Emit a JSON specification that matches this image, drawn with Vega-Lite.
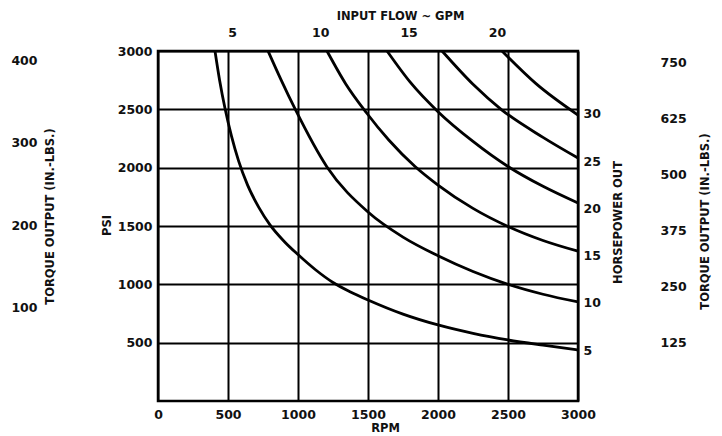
{
  "$schema": "https://vega.github.io/schema/vega-lite/v6.json",
  "autosize": "none",
  "width": 420,
  "height": 350,
  "padding": {"left": 158, "top": 51, "right": 144, "bottom": 35},
  "background": "white",
  "config": {
    "view": {"stroke": "black", "strokeWidth": 2.5},
    "axis": {
      "labelFont": "DejaVu Sans", "labelFontWeight": "bold", "labelFontSize": 12.5, "labelColor": "#111",
      "titleFont": "DejaVu Sans", "titleFontWeight": "bold", "titleFontSize": 11.5, "titleColor": "#111",
      "ticks": false, "domain": false, "grid": false, "labelFlush": false, "labelOverlap": false, "format": "d"
    }
  },
  "datasets": {
    "curves": [
      {"curve": "5 HP", "rpm": 407, "psi": 3000}, {"curve": "5 HP", "rpm": 440, "psi": 2750}, {"curve": "5 HP", "rpm": 480, "psi": 2500},
      {"curve": "5 HP", "rpm": 525, "psi": 2270}, {"curve": "5 HP", "rpm": 575, "psi": 2060}, {"curve": "5 HP", "rpm": 640, "psi": 1850},
      {"curve": "5 HP", "rpm": 720, "psi": 1660}, {"curve": "5 HP", "rpm": 800, "psi": 1510}, {"curve": "5 HP", "rpm": 900, "psi": 1370},
      {"curve": "5 HP", "rpm": 1000, "psi": 1255}, {"curve": "5 HP", "rpm": 1125, "psi": 1125}, {"curve": "5 HP", "rpm": 1250, "psi": 1016},
      {"curve": "5 HP", "rpm": 1375, "psi": 935}, {"curve": "5 HP", "rpm": 1500, "psi": 866}, {"curve": "5 HP", "rpm": 1750, "psi": 745},
      {"curve": "5 HP", "rpm": 2000, "psi": 652}, {"curve": "5 HP", "rpm": 2250, "psi": 580}, {"curve": "5 HP", "rpm": 2500, "psi": 523},
      {"curve": "5 HP", "rpm": 2750, "psi": 478}, {"curve": "5 HP", "rpm": 3000, "psi": 437},
      {"curve": "10 HP", "rpm": 786, "psi": 3000}, {"curve": "10 HP", "rpm": 880, "psi": 2750}, {"curve": "10 HP", "rpm": 979, "psi": 2503},
      {"curve": "10 HP", "rpm": 1207, "psi": 2006}, {"curve": "10 HP", "rpm": 1500, "psi": 1620}, {"curve": "10 HP", "rpm": 1750, "psi": 1405},
      {"curve": "10 HP", "rpm": 2000, "psi": 1245}, {"curve": "10 HP", "rpm": 2250, "psi": 1110}, {"curve": "10 HP", "rpm": 2500, "psi": 1000},
      {"curve": "10 HP", "rpm": 2750, "psi": 915}, {"curve": "10 HP", "rpm": 3000, "psi": 849},
      {"curve": "15 HP", "rpm": 1207, "psi": 3000}, {"curve": "15 HP", "rpm": 1340, "psi": 2720}, {"curve": "15 HP", "rpm": 1486, "psi": 2475},
      {"curve": "15 HP", "rpm": 1650, "psi": 2235}, {"curve": "15 HP", "rpm": 1836, "psi": 2010}, {"curve": "15 HP", "rpm": 2000, "psi": 1851},
      {"curve": "15 HP", "rpm": 2250, "psi": 1651}, {"curve": "15 HP", "rpm": 2500, "psi": 1496}, {"curve": "15 HP", "rpm": 2750, "psi": 1376},
      {"curve": "15 HP", "rpm": 3000, "psi": 1284},
      {"curve": "20 HP", "rpm": 1636, "psi": 3000}, {"curve": "20 HP", "rpm": 1800, "psi": 2735}, {"curve": "20 HP", "rpm": 2000, "psi": 2480},
      {"curve": "20 HP", "rpm": 2250, "psi": 2225}, {"curve": "20 HP", "rpm": 2500, "psi": 2010}, {"curve": "20 HP", "rpm": 2750, "psi": 1840},
      {"curve": "20 HP", "rpm": 3000, "psi": 1697},
      {"curve": "25 HP", "rpm": 2029, "psi": 3000}, {"curve": "25 HP", "rpm": 2250, "psi": 2715}, {"curve": "25 HP", "rpm": 2457, "psi": 2494},
      {"curve": "25 HP", "rpm": 2750, "psi": 2260}, {"curve": "25 HP", "rpm": 3000, "psi": 2083},
      {"curve": "30 HP", "rpm": 2457, "psi": 3000}, {"curve": "30 HP", "rpm": 2700, "psi": 2720}, {"curve": "30 HP", "rpm": 3000, "psi": 2451}
    ],
    "gpm": [{"gpm": 5}, {"gpm": 10}, {"gpm": 15}, {"gpm": 20}],
    "hp": [{"hp": 5}, {"hp": 10}, {"hp": 15}, {"hp": 20}, {"hp": 25}, {"hp": 30}],
    "torqueLeft": [{"torque": 100}, {"torque": 200}, {"torque": 300}, {"torque": 400}],
    "torqueRight": [{"torque": 125}, {"torque": 250}, {"torque": 375}, {"torque": 500}, {"torque": 625}, {"torque": 750}]
  },
  "layer": [
    {
      "data": {"name": "curves"},
      "mark": {"type": "line", "color": "black", "strokeWidth": 2.8, "interpolate": "monotone"},
      "encoding": {
        "x": {"field": "rpm", "type": "quantitative",
          "scale": {"domain": [0, 3000], "nice": false},
          "axis": {"orient": "bottom", "values": [0, 500, 1000, 1500, 2000, 2500, 3000], "format": "d", "grid": true,
            "gridColor": "black", "gridWidth": 2, "gridOpacity": 1, "labelPadding": 7,
            "title": "RPM", "titleX": 227, "titleY": 27, "titleBaseline": "middle", "titleAlign": "center"}},
        "y": {"field": "psi", "type": "quantitative",
          "scale": {"domain": [0, 3000], "nice": false},
          "axis": {"orient": "left", "values": [500, 1000, 1500, 2000, 2500, 3000], "format": "d", "grid": true,
            "gridColor": "black", "gridWidth": 2, "gridOpacity": 1, "labelPadding": 6,
            "title": "PSI", "titleX": -51, "titleY": 174, "titleAngle": 270, "titleBaseline": "middle", "titleAlign": "center"}},
        "detail": {"field": "curve", "type": "nominal"}
      }
    },
    {
      "data": {"name": "gpm"},
      "mark": {"type": "point", "opacity": 0},
      "encoding": {
        "x": {"field": "gpm", "type": "quantitative",
          "scale": {"domain": [0.81, 24.59], "nice": false, "zero": false},
          "axis": {"orient": "top", "values": [5, 10, 15, 20], "format": "d", "labelPadding": 12,
            "title": "INPUT  FLOW ~ GPM", "titleX": 242, "titleY": -35, "titleBaseline": "middle", "titleAlign": "center"}}
      }
    },
    {
      "data": {"name": "hp"},
      "mark": {"type": "point", "opacity": 0},
      "encoding": {
        "y": {"field": "hp", "type": "quantitative",
          "scale": {"domain": [-0.4, 36.67], "nice": false, "zero": false},
          "axis": {"orient": "right", "values": [5, 10, 15, 20, 25, 30], "format": "d", "labelPadding": 5,
            "title": "HORSEPOWER  OUT", "titleX": 40, "titleY": 171, "titleAngle": 270, "titleBaseline": "middle", "titleAlign": "center"}}
      }
    },
    {
      "data": {"name": "torqueLeft"},
      "mark": {"type": "point", "opacity": 0},
      "encoding": {
        "y": {"field": "torque", "type": "quantitative",
          "scale": {"domain": [-13.3, 411.4], "nice": false, "zero": false},
          "axis": {"orient": "left", "offset": 116, "values": [100, 200, 300, 400], "format": "d", "labelPadding": 5,
            "title": "TORQUE  OUTPUT  (IN.-LBS.)", "titleX": 8, "titleY": 165, "titleAngle": 270, "titleBaseline": "middle", "titleAlign": "center"}}
      }
    },
    {
      "data": {"name": "torqueRight"},
      "mark": {"type": "point", "opacity": 0},
      "encoding": {
        "y": {"field": "torque", "type": "quantitative",
          "scale": {"domain": [-6.7, 774.6], "nice": false, "zero": false},
          "axis": {"orient": "right", "offset": 77, "values": [125, 250, 375, 500, 625, 750], "format": "d", "labelPadding": 5,
            "title": "TORQUE  OUTPUT  (IN.-LBS.)", "titleX": 50, "titleY": 170, "titleAngle": 270, "titleBaseline": "middle", "titleAlign": "center"}}
      }
    }
  ],
  "resolve": {"scale": {"x": "independent", "y": "independent"}}
}
